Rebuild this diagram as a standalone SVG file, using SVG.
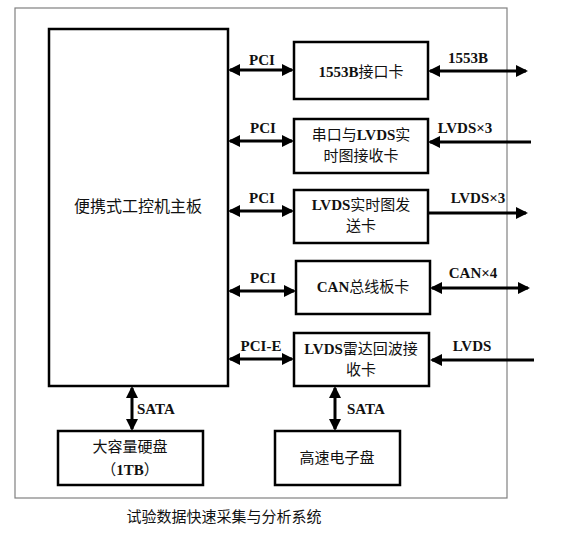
<svg xmlns="http://www.w3.org/2000/svg" width="561" height="533" viewBox="0 0 561 533">
<style>
.box{fill:#fff;stroke:#000;stroke-width:2.5}
.frame{fill:#fff;stroke:#808080;stroke-width:1.2}
.cn{font-family:"Liberation Serif","Noto Sans CJK SC",serif;font-size:15px;fill:#111;text-anchor:middle}
.b{font-weight:bold}
.lbl{font-family:"Liberation Serif",serif;font-size:15px;font-weight:bold;fill:#111;text-anchor:middle}
.line{stroke:#000;stroke-width:3;fill:none}
</style>
<defs>
<marker id="ah" markerUnits="userSpaceOnUse" markerWidth="13" markerHeight="13" refX="10" refY="6" orient="auto-start-reverse">
<path d="M0,0 L12,6 L0,12 z" fill="#000"/>
</marker>
</defs>
<rect class="frame" x="15" y="8" width="492" height="490"/>
<g id="connectors">
<line class="line" x1="230" y1="70" x2="292" y2="70" marker-start="url(#ah)" marker-end="url(#ah)"/>
<line class="line" x1="230" y1="141" x2="292" y2="141" marker-start="url(#ah)" marker-end="url(#ah)"/>
<line class="line" x1="230" y1="211" x2="292" y2="211" marker-start="url(#ah)" marker-end="url(#ah)"/>
<line class="line" x1="230" y1="291" x2="294" y2="291" marker-start="url(#ah)" marker-end="url(#ah)"/>
<line class="line" x1="230" y1="359" x2="292" y2="359" marker-start="url(#ah)" marker-end="url(#ah)"/>
<text class="lbl" x="262" y="65">PCI</text>
<text class="lbl" x="263" y="133">PCI</text>
<text class="lbl" x="262" y="203">PCI</text>
<text class="lbl" x="263" y="283">PCI</text>
<text class="lbl" x="261" y="351">PCI-E</text>
<line class="line" x1="430" y1="71" x2="526" y2="71" marker-start="url(#ah)" marker-end="url(#ah)"/>
<line class="line" x1="531" y1="142" x2="430" y2="142" marker-end="url(#ah)"/>
<line class="line" x1="428" y1="213" x2="526" y2="213" marker-end="url(#ah)"/>
<line class="line" x1="432" y1="288" x2="528" y2="288" marker-start="url(#ah)" marker-end="url(#ah)"/>
<line class="line" x1="534" y1="360" x2="432" y2="360" marker-end="url(#ah)"/>
<text class="lbl" x="468" y="63">1553B</text>
<text class="lbl" x="465" y="133">LVDS×3</text>
<text class="lbl" x="478" y="203">LVDS×3</text>
<text class="lbl" x="473" y="278">CAN×4</text>
<text class="lbl" x="472" y="351">LVDS</text>
<line class="line" x1="132" y1="388" x2="132" y2="429" marker-start="url(#ah)" marker-end="url(#ah)"/>
<line class="line" x1="335" y1="388" x2="335" y2="429" marker-start="url(#ah)" marker-end="url(#ah)"/>
<text class="lbl" x="137" y="414" style="text-anchor:start">SATA</text>
<text class="lbl" x="347" y="414" style="text-anchor:start">SATA</text>
</g>
<g id="mainboard">
<rect class="box" x="49" y="29" width="179" height="357"/>
<text class="cn" x="138" y="212" style="font-size:16px">便携式工控机主板</text>
</g>
<g id="card1553b">
<rect class="box" x="294" y="42" width="134" height="57"/>
<text class="cn" x="361" y="77"><tspan class="b">1553B</tspan>接口卡</text>
</g>
<g id="serialLvdsRx">
<rect class="box" x="294" y="119" width="134" height="54"/>
<text class="cn" x="361" y="140">串口与<tspan class="b">LVDS</tspan>实</text>
<text class="cn" x="361" y="161">时图接收卡</text>
</g>
<g id="lvdsTx">
<rect class="box" x="294" y="190" width="134" height="53"/>
<text class="cn" x="361" y="210"><tspan class="b">LVDS</tspan>实时图发</text>
<text class="cn" x="361" y="231">送卡</text>
</g>
<g id="canCard">
<rect class="box" x="296" y="261" width="134" height="53"/>
<text class="cn" x="363" y="292"><tspan class="b">CAN</tspan>总线板卡</text>
</g>
<g id="radarRx">
<rect class="box" x="294" y="333" width="135" height="53"/>
<text class="cn" x="361" y="354"><tspan class="b">LVDS</tspan>雷达回波接</text>
<text class="cn" x="361" y="375">收卡</text>
</g>
<g id="hdd">
<rect class="box" x="58" y="431" width="145" height="54"/>
<text class="cn" x="130" y="452">大容量硬盘</text>
<text class="cn" x="130" y="475">（<tspan class="b">1TB</tspan>）</text>
</g>
<g id="ssd">
<rect class="box" x="275" y="431" width="125" height="54"/>
<text class="cn" x="337" y="463">高速电子盘</text>
</g>
<text class="cn" x="224" y="522">试验数据快速采集与分析系统</text>
</svg>
